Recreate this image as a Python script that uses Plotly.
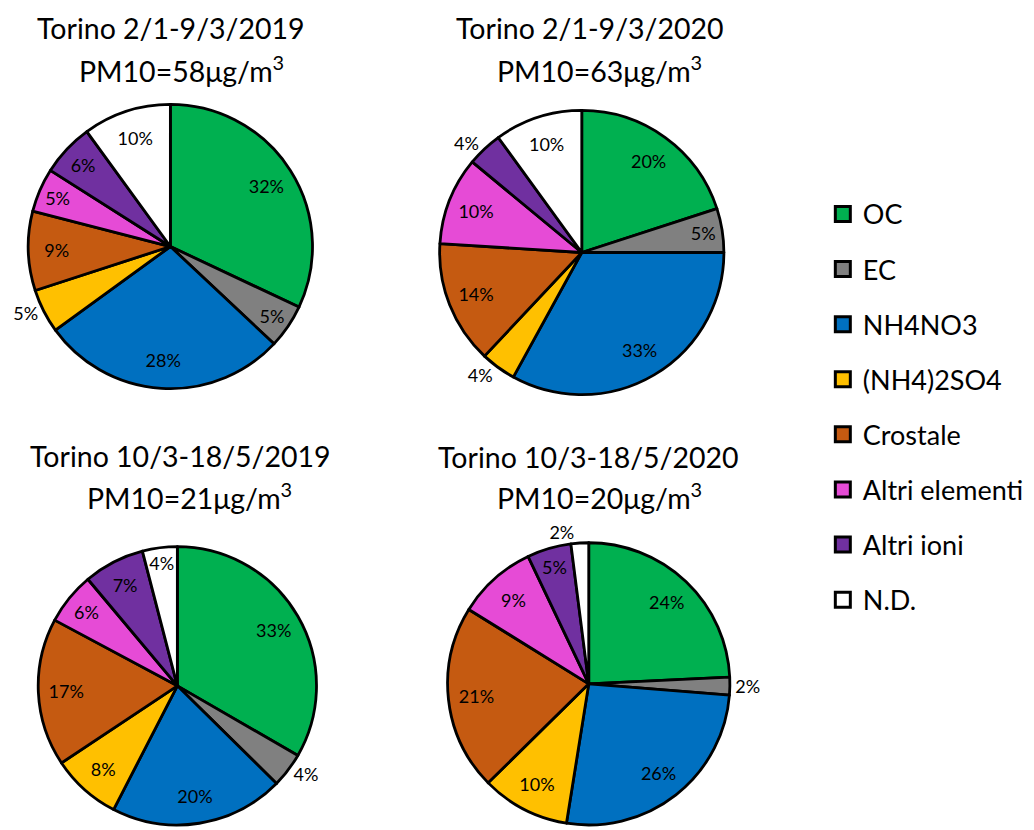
import plotly.graph_objects as go

categories = ["OC", "EC", "NH4NO3", "(NH4)2SO4", "Crostale", "Altri elementi", "Altri ioni", "N.D."]
colors = ["#00B050", "#808080", "#0070C0", "#FFC000", "#C55A11", "#E64BD6", "#7030A0", "#FFFFFF"]

titles_line1 = ["Torino 2/1-9/3/2019", "Torino 2/1-9/3/2020", "Torino 10/3-18/5/2019", "Torino 10/3-18/5/2020"]
pm10 = [58, 63, 21, 20]

vals_2019_winter = [32, 5, 28, 5, 9, 5, 6, 10]
vals_2020_winter = [20, 5, 33, 4, 14, 10, 4, 10]
vals_2019_spring = [33, 4, 20, 8, 17, 6, 7, 4]
vals_2020_spring = [24, 2, 26, 10, 21, 9, 5, 2]

# True = label placed outside the slice
outside_2019_winter = [False, False, False, True, False, False, False, False]
outside_2020_winter = [False, False, False, True, False, False, True, False]
outside_2019_spring = [False, True, False, False, False, False, False, False]
outside_2020_spring = [False, True, False, False, False, False, False, True]

FONT = "Lato"
OFF = 8  # page body margin
W, H = 1034 - OFF, 830 - OFF

# pie geometry in page pixels: center x, center y, radius
geom = [(167, 248, 143), (580, 254, 143), (174, 690, 140), (587, 688, 142)]
title_pos = [((168, 28), (178, 69)), ((588, 28), (598, 69)), ((177, 459), (186, 499)), ((587, 460), (598, 499))]

series = [vals_2019_winter, vals_2020_winter, vals_2019_spring, vals_2020_spring]
outsides = [outside_2019_winter, outside_2020_winter, outside_2019_spring, outside_2020_spring]


def px(x):
    return (x - OFF) / W


def py(y):
    return 1 - (y - OFF) / H


fig = go.Figure()
for vals, outs, (cx, cy, r) in zip(series, outsides, geom):
    dom = dict(x=[max(0, px(cx - r)), min(1, px(cx + r))], y=[max(0, py(cy + r)), min(1, py(cy - r))])
    # slices, with outside labels
    fig.add_trace(go.Pie(
        labels=categories, values=vals, sort=False, direction="clockwise", rotation=0,
        marker=dict(colors=colors, line=dict(color="black", width=2.8)),
        texttemplate="%{value}%", textposition=["outside" if o else "none" for o in outs],
        textfont=dict(family=FONT, size=18, color="black"),
        domain=dom, showlegend=False, hoverinfo="label+value",
    ))
    # transparent ring carrying the inside labels
    fig.add_trace(go.Pie(
        labels=categories, values=vals, sort=False, direction="clockwise", rotation=0, hole=0.6,
        marker=dict(colors=["rgba(0,0,0,0)"] * len(vals), line=dict(width=0)),
        texttemplate="%{value}%", textposition=["none" if o else "inside" for o in outs],
        insidetextorientation="horizontal",
        textfont=dict(family=FONT, size=18, color="black"),
        domain=dom, showlegend=False, hoverinfo="skip",
    ))

# legend entries
for cat, col in zip(categories, colors):
    fig.add_trace(go.Scatter(
        x=[None], y=[None], mode="markers", name=cat, legendgroup=cat,
        marker=dict(symbol="square", size=15, color=col, line=dict(color="black", width=3)),
    ))

annotations = []
for t1, pm, ((x1p, y1p), (x2p, y2p)) in zip(titles_line1, pm10, title_pos):
    annotations.append(dict(text=t1, x=px(x1p), y=py(y1p), xref="paper", yref="paper",
                            xanchor="center", yanchor="middle", showarrow=False,
                            font=dict(family=FONT, size=28.5, color="black")))
    annotations.append(dict(text=f"PM10={pm}μg/m<sup>3</sup>", x=px(x2p), y=py(y2p), xref="paper", yref="paper",
                            xanchor="center", yanchor="middle", showarrow=False,
                            font=dict(family=FONT, size=28.5, color="black")))

fig.update_layout(
    width=W, height=H, margin=dict(l=0, r=0, t=0, b=0),
    paper_bgcolor="white", plot_bgcolor="white",
    xaxis=dict(visible=False), yaxis=dict(visible=False),
    annotations=annotations,
    uniformtext=dict(minsize=18, mode="show"),
    legend=dict(x=px(822), y=py(191), xanchor="left", yanchor="top",
                font=dict(family=FONT, size=27, color="black"),
                tracegroupgap=17, itemsizing="trace", itemwidth=30, bgcolor="rgba(0,0,0,0)"),
    font=dict(family=FONT),
)

fig.write_html("out.html")
